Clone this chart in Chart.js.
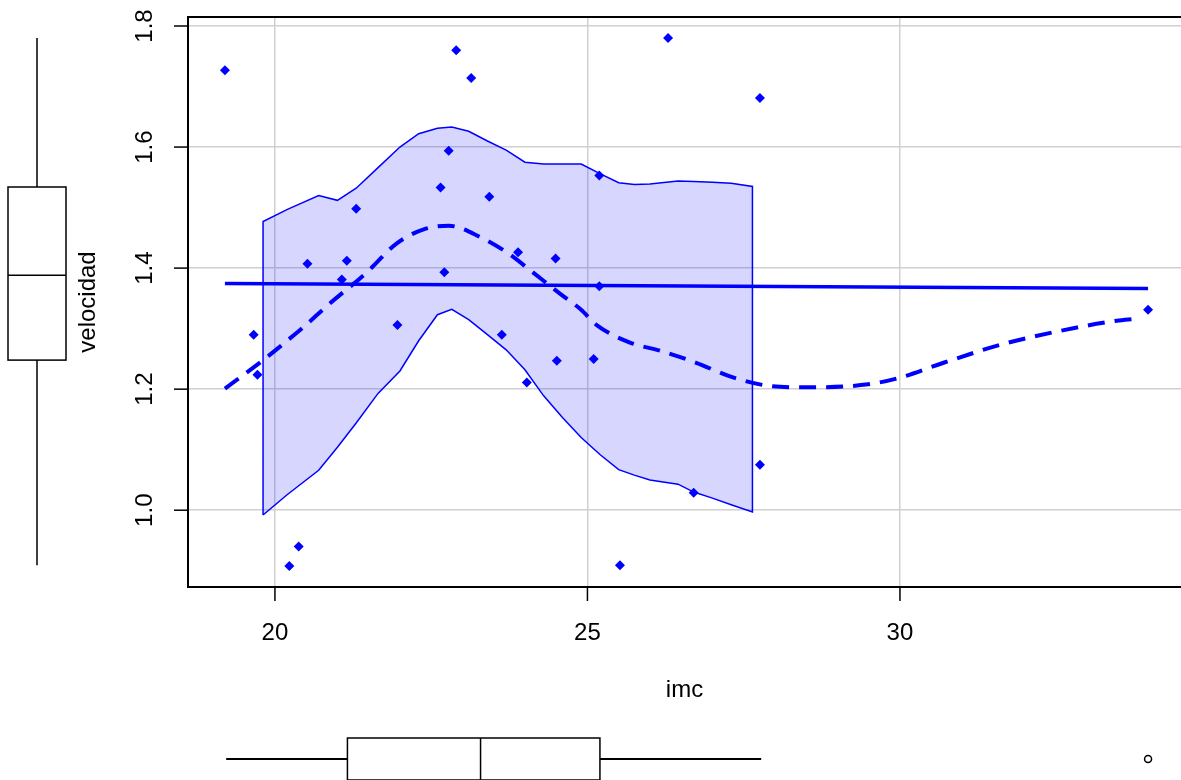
<!DOCTYPE html>
<html>
<head>
<meta charset="utf-8">
<script src="https://cdn.jsdelivr.net/npm/chart.js@4.4.1/dist/chart.umd.min.js"></script>
<style>
  html, body { margin: 0; padding: 0; background: #ffffff; overflow: hidden; }
  #myChart { display: block; }
</style>
</head>
<body>
<canvas id="myChart" width="1190" height="780"></canvas>
<script>
// observations
var imc = [19.20, 19.66, 19.72, 20.38, 20.23, 20.52, 21.15, 21.07, 21.30, 21.96,
           22.90, 23.14, 22.78, 22.65, 23.43, 22.71, 23.89, 24.49, 25.19, 25.19,
           26.29, 27.76, 23.63, 24.51, 24.03, 25.10, 26.70, 25.52, 27.76, 33.97];
var velocidad = [1.727, 1.290, 1.224, 0.940, 0.908, 1.407, 1.412, 1.381, 1.498, 1.306,
                 1.760, 1.714, 1.594, 1.533, 1.518, 1.393, 1.426, 1.416, 1.553, 1.370,
                 1.780, 1.681, 1.290, 1.247, 1.211, 1.250, 1.029, 0.909, 1.075, 1.331];

// linear fit
var regX = [19.20, 33.97];
var regY = [1.3747, 1.3664];

// smoother (dashed)
var smoothX = [19.2, 19.8, 20.1, 20.45, 20.85, 21.47, 21.95, 22.38, 22.78, 23.29, 23.71, 24.09,
               24.57, 24.89, 25.16, 25.68, 26.18, 26.73, 27.34, 27.95, 28.57, 29.49, 30.0,
               30.71, 31.63, 32.55, 33.47, 33.75];
var smoothY = [1.201, 1.247, 1.272, 1.302, 1.339, 1.393, 1.441, 1.464, 1.470, 1.451, 1.426, 1.396,
               1.357, 1.332, 1.305, 1.277, 1.263, 1.244, 1.219, 1.205, 1.203, 1.208, 1.219,
               1.244, 1.274, 1.296, 1.313, 1.316];

// variance band
var bandX = [19.81, 20.2, 20.7, 21.0, 21.3, 21.65, 22.0, 22.3, 22.6, 22.83, 23.1, 23.4, 23.7,
             24.0, 24.3, 24.6, 24.9, 25.2, 25.5, 25.75, 26.0, 26.45, 26.7, 27.0, 27.3, 27.64];
var bandUpper = [1.477, 1.497, 1.520, 1.512, 1.532, 1.566, 1.600, 1.622, 1.631, 1.633, 1.626, 1.610, 1.595,
                 1.575, 1.572, 1.572, 1.572, 1.556, 1.541, 1.538, 1.539, 1.544, 1.543, 1.542, 1.540, 1.535];
var bandLower = [0.992, 1.026, 1.066, 1.104, 1.144, 1.193, 1.230, 1.280, 1.323, 1.332, 1.315, 1.290, 1.265,
                 1.232, 1.189, 1.153, 1.120, 1.092, 1.067, 1.058, 1.050, 1.043, 1.030, 1.020, 1.009, 0.997];

// marginal boxplots: whisker low, q1, median, q3, whisker high
var imcBox = [19.22, 21.16, 23.29, 25.20, 27.78];
var imcOutliers = [33.97];
var velBox = [0.909, 1.248, 1.388, 1.534, 1.780];

var xTicks = [20, 25, 30];
var yTicks = [1.0, 1.2, 1.4, 1.6, 1.8];

var blue = "#0000ff";
var font = "24px 'Liberation Sans', Arial, sans-serif";

function pts(xs, ys) {
    var out = [];
    for (var i = 0; i < xs.length; i++) out.push({ x: xs[i], y: ys[i] });
    return out;
}

// closed polygon: lower left->right, upper right->left, back to start
var bandPoly = pts(bandX, bandLower);
for (var i = bandX.length - 1; i >= 0; i--) bandPoly.push({ x: bandX[i], y: bandUpper[i] });
bandPoly.push({ x: bandX[0], y: bandLower[0] });

// R style 4% range extension
var xPad = (Math.max.apply(null, imc) - Math.min.apply(null, imc)) * 0.04;
var yPad = (Math.max.apply(null, velocidad) - Math.min.apply(null, velocidad)) * 0.04;

var framePlugin = {
    id: "frame",
    afterDraw: function (chart) {
        var ctx = chart.ctx;
        var a = chart.chartArea;
        var xs = chart.scales.x;
        var ys = chart.scales.y;
        ctx.save();
        ctx.strokeStyle = "#000";
        ctx.fillStyle = "#000";
        ctx.lineWidth = 2;
        ctx.strokeRect(a.left, a.top, a.right - a.left, a.bottom - a.top);

        ctx.font = font;
        ctx.lineWidth = 1.5;
        // y ticks
        yTicks.forEach(function (v) {
            var py = ys.getPixelForValue(v);
            ctx.beginPath();
            ctx.moveTo(a.left - 14, py);
            ctx.lineTo(a.left, py);
            ctx.stroke();
            ctx.save();
            ctx.translate(145, py);
            ctx.rotate(-Math.PI / 2);
            ctx.textAlign = "center";
            ctx.textBaseline = "middle";
            ctx.fillText(v.toFixed(1), 0, 0);
            ctx.restore();
        });
        // x ticks
        xTicks.forEach(function (v) {
            var px = xs.getPixelForValue(v);
            ctx.beginPath();
            ctx.moveTo(px, a.bottom);
            ctx.lineTo(px, a.bottom + 14);
            ctx.stroke();
            ctx.textAlign = "center";
            ctx.textBaseline = "middle";
            ctx.fillText(String(v), px, 633);
        });
        // axis titles
        ctx.textAlign = "center";
        ctx.textBaseline = "middle";
        ctx.fillText("imc", (a.left + 1181) / 2, 690);
        ctx.save();
        ctx.translate(88, (a.top + a.bottom) / 2);
        ctx.rotate(-Math.PI / 2);
        ctx.fillText("velocidad", 0, 0);
        ctx.restore();

        // bottom boxplot (imc)
        var cy = 759, hh = 21;
        var b = imcBox.map(function (v) { return xs.getPixelForValue(v); });
        ctx.lineWidth = 2;
        ctx.beginPath();
        ctx.moveTo(b[0], cy); ctx.lineTo(b[1], cy);
        ctx.moveTo(b[3], cy); ctx.lineTo(b[4], cy);
        ctx.stroke();
        ctx.lineWidth = 1.5;
        ctx.strokeRect(b[1], cy - hh, b[3] - b[1], 2 * hh);
        ctx.beginPath();
        ctx.moveTo(b[2], cy - hh); ctx.lineTo(b[2], cy + hh);
        ctx.stroke();
        imcOutliers.forEach(function (v) {
            ctx.beginPath();
            ctx.arc(xs.getPixelForValue(v), cy, 3.5, 0, Math.PI * 2);
            ctx.stroke();
        });

        // left boxplot (velocidad)
        var cx = 37, hw = 29;
        var c = velBox.map(function (v) { return ys.getPixelForValue(v); });
        ctx.beginPath();
        ctx.moveTo(cx, c[0]); ctx.lineTo(cx, c[1]);
        ctx.moveTo(cx, c[3]); ctx.lineTo(cx, c[4]);
        ctx.stroke();
        ctx.strokeRect(cx - hw, c[3], 2 * hw, c[1] - c[3]);
        ctx.beginPath();
        ctx.moveTo(cx - hw, c[2]); ctx.lineTo(cx + hw, c[2]);
        ctx.stroke();
        ctx.restore();
    }
};

var myChart = document.getElementById("myChart").getContext("2d");
var scatterChart = new Chart(myChart, {
    type: "scatter",
    data: {
        datasets: [{
            label: "observaciones",
            data: pts(imc, velocidad),
            pointStyle: "rectRot",
            pointRadius: 5,
            backgroundColor: blue,
            borderWidth: 0
        }, {
            label: "lineal",
            data: pts(regX, regY),
            showLine: true,
            pointRadius: 0,
            borderColor: blue,
            borderWidth: 3.5
        }, {
            label: "suavizado",
            data: pts(smoothX, smoothY),
            showLine: true,
            pointRadius: 0,
            borderColor: blue,
            borderWidth: 4,
            borderDash: [17, 10],
            cubicInterpolationMode: "monotone"
        }, {
            label: "banda",
            data: bandPoly,
            showLine: true,
            pointRadius: 0,
            borderColor: blue,
            borderWidth: 1.5,
            backgroundColor: "rgba(0, 0, 255, 0.16)",
            fill: "shape"
        }]
    },
    options: {
        responsive: false,
        animation: false,
        devicePixelRatio: 1,
        layout: { padding: { top: 17, left: 0, right: 0, bottom: 0 } },
        plugins: {
            legend: { display: false },
            tooltip: { enabled: false }
        },
        scales: {
            x: {
                type: "linear",
                min: Math.min.apply(null, imc) - xPad,
                max: Math.max.apply(null, imc) + xPad,
                afterBuildTicks: function (scale) {
                    scale.ticks = xTicks.map(function (v) { return { value: v }; });
                },
                afterFit: function (scale) { scale.height = 193; },
                ticks: { display: false },
                border: { display: false },
                grid: { color: "#d0d0d0", lineWidth: 1.5, drawTicks: false }
            },
            y: {
                type: "linear",
                min: Math.min.apply(null, velocidad) - yPad,
                max: Math.max.apply(null, velocidad) + yPad,
                afterBuildTicks: function (scale) {
                    scale.ticks = yTicks.map(function (v) { return { value: v }; });
                },
                afterFit: function (scale) { scale.width = 188; },
                ticks: { display: false },
                border: { display: false },
                grid: { color: "#d0d0d0", lineWidth: 1.5, drawTicks: false }
            }
        }
    },
    plugins: [framePlugin]
});
</script>
</body>
</html>
